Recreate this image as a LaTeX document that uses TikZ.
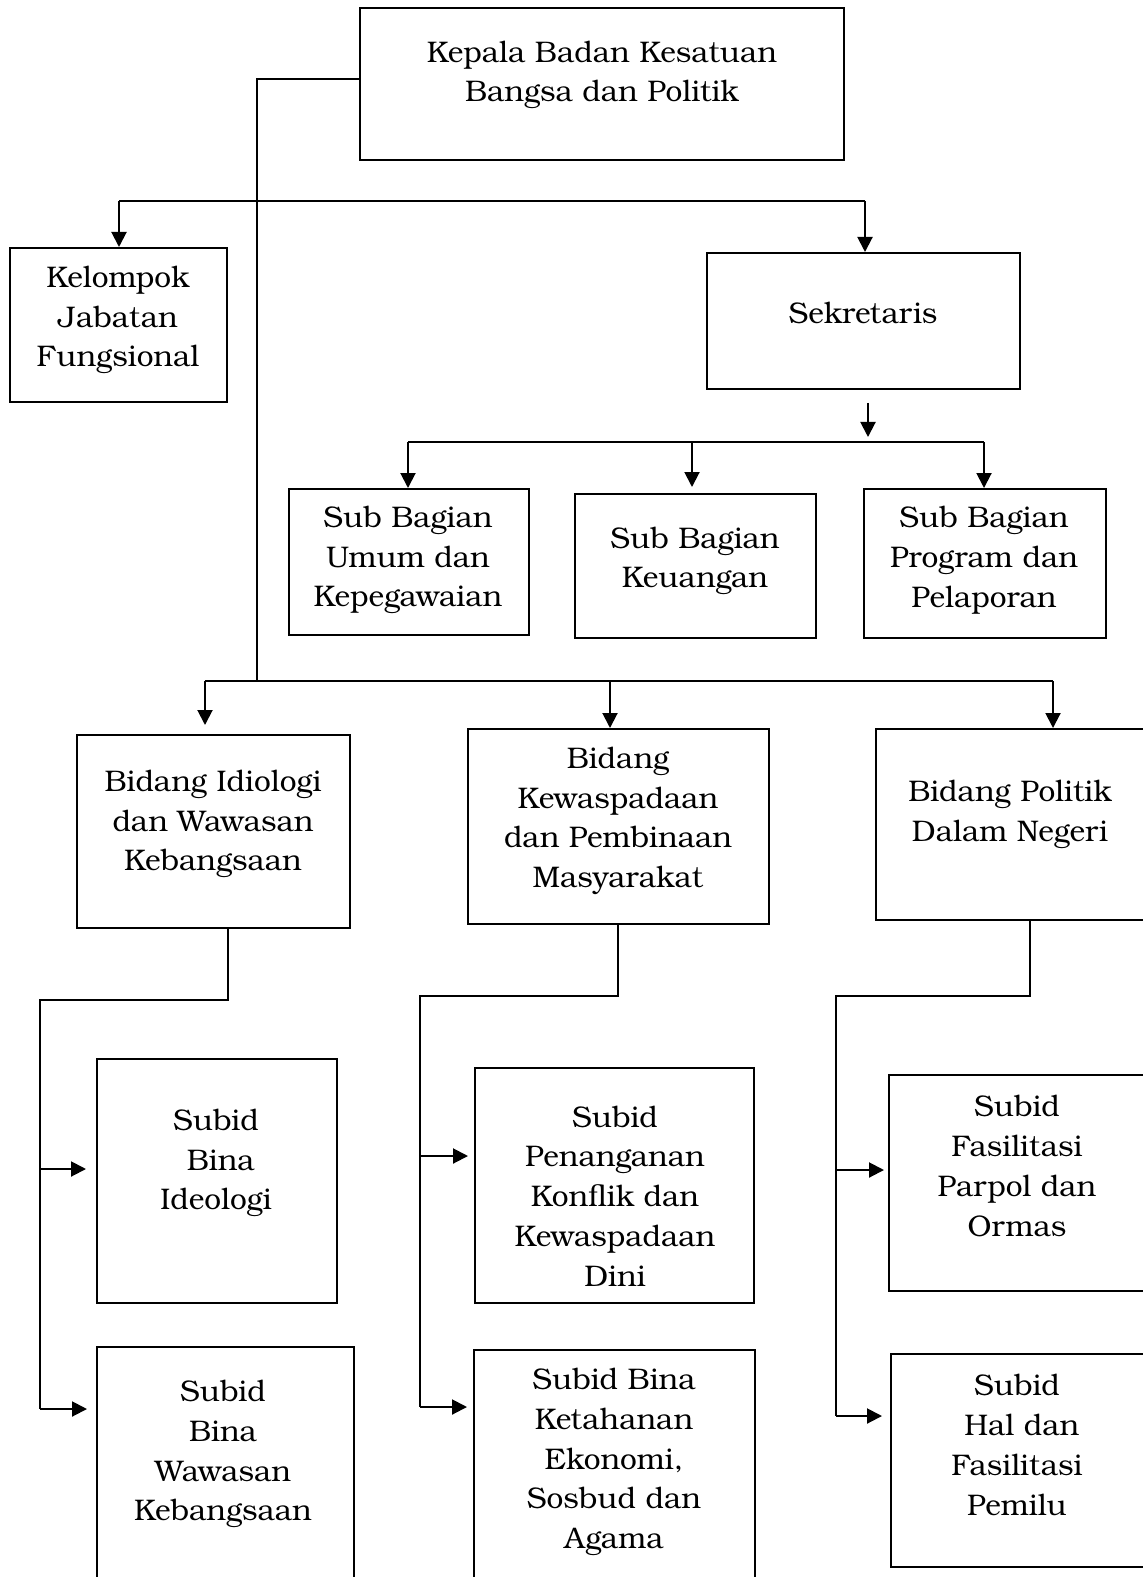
\documentclass[tikz,border=0pt]{standalone}
\usepackage{fontspec}
\setmainfont{TeX Gyre Bonum}
\usetikzlibrary{arrows.meta,fit}
\newcommand\orgbox[5]{\path (#2,#3) coordinate (#1-a) (#4,#5) coordinate (#1-b); \node[box,fit=(#1-a)(#1-b)] (#1) {};}
\begin{document}
\begin{tikzpicture}[x=0.5pt,y=-0.5pt,
 ln/.style={line width=1pt},
 arr/.style={line width=1pt,-{Triangle[length=7.5pt,width=7.5pt]}},
 box/.style={draw,line width=1pt,inner sep=0pt,rectangle},
 lbl/.style={align=center,inner sep=0pt,font=\fontsize{14.9}{19.9}\selectfont}]
\useasboundingbox (0,0) rectangle (1143,1577);
\clip (0,0) rectangle (1143,1577);
% boxes
\orgbox{top}{360}{8}{844}{160}
\orgbox{kel}{10}{248}{227}{402}
\orgbox{sek}{707}{253}{1020}{389}
\orgbox{sba}{289}{489}{529}{635}
\orgbox{sbb}{575}{494}{816}{638}
\orgbox{sbc}{864}{489}{1106}{638}
\orgbox{bda}{77}{735}{350}{928}
\orgbox{bdb}{468}{729}{769}{924}
\orgbox{bdc}{876}{729}{1160}{920}
\orgbox{saa}{97}{1059}{337}{1303}
\orgbox{sab}{97}{1347}{354}{1600}
\orgbox{sba2}{475}{1068}{754}{1303}
\orgbox{sbb2}{474}{1350}{755}{1600}
\orgbox{sca}{889}{1075}{1160}{1291}
\orgbox{scb}{891}{1354}{1160}{1567}
% labels
\node[lbl] (t-top) at (602,75) {Kepala Badan Kesatuan\\Bangsa dan Politik};
\node[lbl] (t-kel) at (118,320) {Kelompok\\Jabatan\\Fungsional};
\node[lbl] (t-sek) at (863,313) {Sekretaris};
\node[lbl] (t-sba) at (408,560) {Sub Bagian\\Umum dan\\Kepegawaian};
\node[lbl] (t-sbb) at (695,561) {Sub Bagian\\Keuangan};
\node[lbl] (t-sbc) at (984,560) {Sub Bagian\\Program dan\\Pelaporan};
\node[lbl] (t-bda) at (213,824) {Bidang Idiologi\\dan Wawasan\\Kebangsaan};
\node[lbl] (t-bdb) at (618,821) {Bidang\\Kewaspadaan\\dan Pembinaan\\Masyarakat};
\node[lbl] (t-bdc) at (1010,814) {Bidang Politik\\Dalam Negeri};
\node[lbl] (t-saa) at (216,1163) {Subid\\\ Bina\\Ideologi};
\node[lbl] (t-sab) at (223,1454) {Subid\\Bina\\Wawasan\\Kebangsaan};
\node[lbl] (t-sba2) at (615,1196) {Subid\\Penanganan\\Konflik dan\\Kewaspadaan\\Dini};
\node[lbl] (t-sbb2) at (614,1462) {Subid Bina\\Ketahanan\\Ekonomi,\\Sosbud dan\\Agama};
\node[lbl] (t-sca) at (1017,1166) {Subid\\Fasilitasi\\Parpol dan\\Ormas};
\node[lbl] (t-scb) at (1017,1445) {Subid\\\ Hal dan\\Fasilitasi\\Pemilu};
% main spine
\coordinate (jA) at (257,79);
\coordinate (jB) at (257,681);
\draw[ln] (jA -| top.west) -- (jA) -- (jB);
% level 2
\coordinate (hK) at (119,201);
\coordinate (hS) at (865,201);
\draw[ln] (hK) -- (hS);
\draw[arr] (hK) -- (kel.north -| hK);
\draw[arr] (hS) -- (sek.north -| hS);
% sekretaris subunits
\coordinate (sA) at (868,403);
\coordinate (sB) at (868,437);
\draw[arr] (sA) -- (sB);
\coordinate (hU) at (408,442);
\coordinate (hM) at (692,442);
\coordinate (hP) at (984,442);
\draw[ln] (hU) -- (hP);
\draw[arr] (hU) -- (sba.north -| hU);
\draw[arr] (hM) -- ([yshift=3pt]sbb.north -| hM);
\draw[arr] (hP) -- (sbc.north -| hP);
% bidang level
\coordinate (bA) at (205,681);
\coordinate (bB) at (610,681);
\coordinate (bC) at (1053,681);
\draw[ln] (bA) -- (bC);
\draw[arr] (bA) -- ([yshift=4.5pt]bda.north -| bA);
\draw[arr] (bB) -- (bdb.north -| bB);
\draw[arr] (bC) -- (bdc.north -| bC);
% subtree 1
\coordinate (d1a) at (228,1000);
\coordinate (d1b) at (40,1000);
\coordinate (d1c) at (40,1169);
\coordinate (d1d) at (40,1409);
\draw[ln] (bda.south -| d1a) -- (d1a) -- (d1b) -- (d1d);
\draw[arr,shorten >=5pt] (d1c) -- (saa.west |- d1c);
\draw[arr,shorten >=4.5pt] (d1d) -- (sab.west |- d1d);
% subtree 2
\coordinate (d2a) at (618,996);
\coordinate (d2b) at (420,996);
\coordinate (d2c) at (420,1156);
\coordinate (d2d) at (420,1407);
\draw[ln] (bdb.south -| d2a) -- (d2a) -- (d2b) -- (d2d);
\draw[arr,shorten >=3pt] (d2c) -- (sba2.west |- d2c);
\draw[arr,shorten >=3pt] (d2d) -- (sbb2.west |- d2d);
% subtree 3
\coordinate (d3a) at (1030,996);
\coordinate (d3b) at (836,996);
\coordinate (d3c) at (836,1170);
\coordinate (d3d) at (836,1416);
\draw[ln] (bdc.south -| d3a) -- (d3a) -- (d3b) -- (d3d);
\draw[arr,shorten >=2pt] (d3c) -- (sca.west |- d3c);
\draw[arr,shorten >=4pt] (d3d) -- (scb.west |- d3d);
\end{tikzpicture}
\end{document}
